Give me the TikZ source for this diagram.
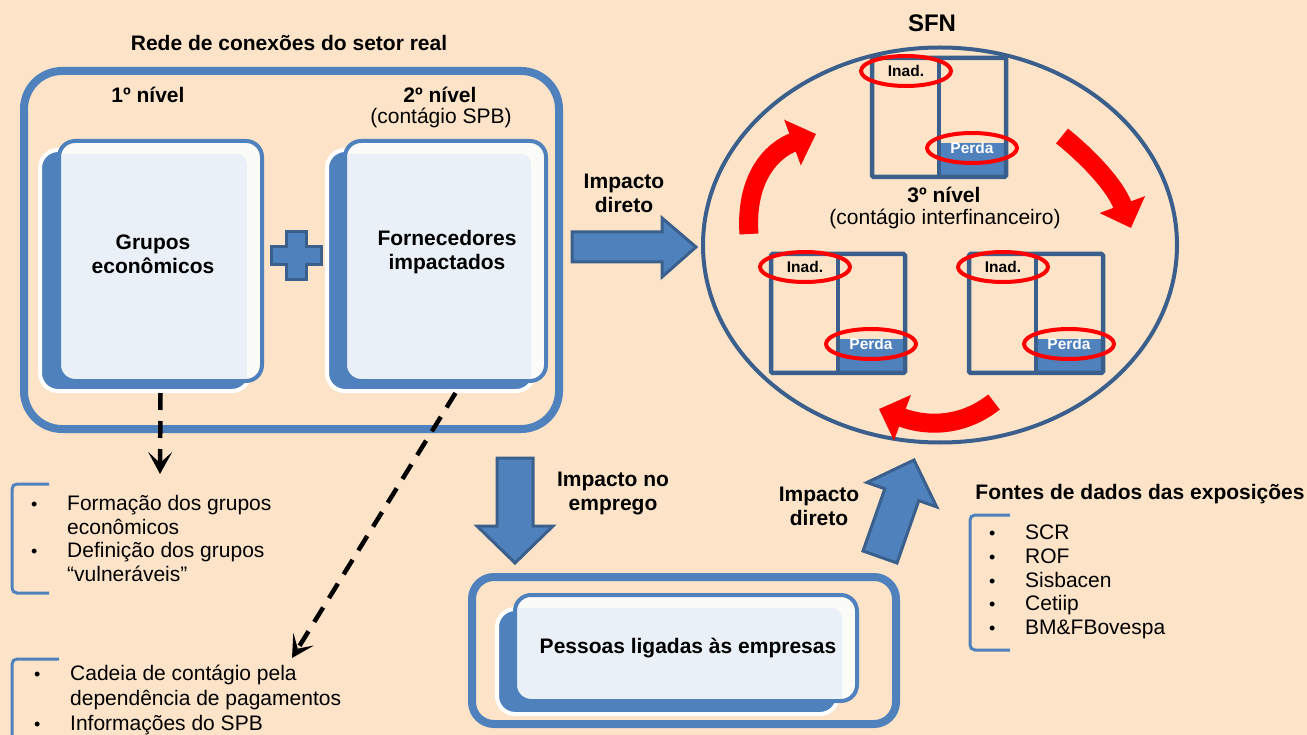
\documentclass[tikz,border=0pt]{standalone}
\usepackage{fontspec}
\setmainfont{Liberation Sans}
\usepackage{xcolor}
\usetikzlibrary{arrows.meta}
\usetikzlibrary{shapes.geometric}

\definecolor{peach}{RGB}{253,228,201}
\definecolor{boxblue}{RGB}{79,129,189}
\definecolor{darkblue}{RGB}{58,95,140}
\definecolor{cardfill}{RGB}{234,240,248}
\definecolor{cardrim}{RGB}{251,251,248}

\newcommand{\itembul}{\makebox[36pt][l]{\fontsize{18}{18}\selectfont\textbullet}}

\begin{document}
\begin{tikzpicture}[x=1pt, y=-1pt,
	txt/.style={font=\fontsize{21}{24}\selectfont, align=center, inner sep=0pt},
	btxt/.style={txt, font=\fontsize{21}{24}\selectfont\bfseries},
	frame/.style={draw=boxblue, line width=8pt, rounded corners=38pt},
	plate/.style={fill=boxblue, draw=white, line width=4pt, rounded corners=18pt},
	card/.style={draw=boxblue, line width=4pt, fill=cardrim, rounded corners=16pt,
		path picture={\fill[cardfill, rounded corners=10pt]
			([shift={(-6,13)}]path picture bounding box.north west) rectangle
			([shift={(-15,6)}]path picture bounding box.south east);}},
	blockarrow/.style={fill=boxblue, draw=darkblue, line width=3pt, line join=miter},
	dasharrow/.style={black, line width=4.5pt, dash pattern=on 17pt off 11pt,
		-{Stealth[length=22pt,width=24pt,inset=11pt]}},
	redarrow/.style={red, line width=19pt, -{Triangle[length=25pt,width=47pt]}},
	bank/.style={draw=darkblue, line width=4.5pt, rounded corners=1.5pt},
	ring/.style={ellipse, draw=red, line width=4pt, minimum width=90pt, minimum height=30pt,
		inner sep=0pt, font=\fontsize{15.5}{18}\selectfont\bfseries},
	bracket/.style={draw=boxblue, line width=3pt, rounded corners=5pt},
	lst/.style={anchor=base west, inner sep=0pt}
]
	\fill[peach] (0,0) rectangle (1307,735);
	\useasboundingbox (0,0) rectangle (1307,735);

	% setor real
	\node[frame, minimum width=535pt, minimum height=358pt] (realsec) at (291.5,250) {};
	\node[btxt] (realsec-title) at (289,43) {Rede de conexões do setor real};
	\node[btxt] (nivel1) at (148,95) {1º nível};
	\node[btxt] (nivel2) at (440,95) {2º nível};
	\node[txt] (nivel2-sub) at (441,118) {(contágio SPB)};

	\node[plate, minimum width=210pt, minimum height=241pt] (grupos-plate) at (145,270.5) {};
	\node[card, minimum width=203pt, minimum height=240pt] (grupos) at (160.5,261) {};
	\node[btxt] (grupos-txt) at (153,254) {Grupos\\econômicos};

	\node[plate, minimum width=207pt, minimum height=241pt] (forn-plate) at (430.5,270.5) {};
	\node[card, minimum width=201pt, minimum height=240pt] (forn) at (445.5,261) {};
	\node[btxt] (forn-txt) at (447,252) {Fornecedores\\impactados};

	% sinal de soma
	\draw[blockarrow] (286,232) -- (306,232) -- (306,247) -- (321,247) -- (321,265) -- (306,265)
		-- (306,280) -- (286,280) -- (286,265) -- (271,265) -- (271,247) -- (286,247) -- cycle;

	% setas tracejadas
	\coordinate (tip1) at (160,474);
	\coordinate (tip2) at (292,658);
	\draw[dasharrow] ([yshift=-10pt]grupos.south) -- (tip1);
	\draw[dasharrow] ([xshift=10pt,yshift=-10pt]forn.south) -- (tip2);

	% impactos
	\draw[blockarrow] (572,232) -- (662,232) -- (662,218) -- (696,247) -- (662,277) -- (662,262) -- (572,262) -- cycle;
	\node[btxt] (imp-direto1) at (624,193) {Impacto\\direto};
	\draw[blockarrow] (497,458) -- (533,458) -- (533,526) -- (553,526) -- (515,563) -- (477,526) -- (497,526) -- cycle;
	\node[btxt] (imp-emprego) at (613,493) {Impacto no\\emprego};
	\draw[blockarrow] (863,551) -- (884.8,488.8) -- (866.9,482.5) -- (914,460) -- (936.7,506.9) -- (918.8,500.6) -- (897,563) -- cycle;
	\node[btxt] (imp-direto2) at (819,506) {Impacto\\direto};

	% SFN
	\node[draw=darkblue, line width=4pt, ellipse, minimum width=474pt, minimum height=395pt] (sfn) at (940,245) {};
	\node[btxt, font=\fontsize{24}{28}\selectfont\bfseries] (sfn-title) at (932,23) {SFN};
	\node[btxt] (nivel3) at (944,195) {3º nível};
	\node[txt] (nivel3-sub) at (945,219) {(contágio interfinanceiro)};

	\foreach \bx/\by/\bn in {872/58/top, 771/254/left, 969/254/right}{
		\fill[boxblue] (\bx+67,\by+85) rectangle (\bx+134,\by+119);
		\draw[bank] (\bx,\by) rectangle (\bx+134,\by+119);
		\draw[bank] (\bx+67,\by) -- (\bx+67,\by+119);
		\node[ring, text=black] (inad-\bn) at (\bx+34,\by+13) {Inad.};
		\node[ring, text=white] (perda-\bn) at (\bx+100,\by+90) {Perda};
	}

	\draw[redarrow] (749,234) .. controls (745,178) and (772,150) .. (816,134);
	\draw[redarrow] (1062,136) .. controls (1087,156) and (1115,185) .. (1131,228);
	\draw[redarrow] (994,402) .. controls (965,425) and (930,428) .. (879,409);

	% pessoas
	\node[frame, rounded corners=22pt, minimum width=424pt, minimum height=147pt] (pessoas-box) at (684,650.5) {};
	\node[plate, minimum width=341pt, minimum height=105pt] (pessoas-plate) at (667.5,661.5) {};
	\node[card, minimum width=342pt, minimum height=106pt] (pessoas) at (686,648) {};
	\node[btxt] (pessoas-txt) at (688,648) {Pessoas ligadas às empresas};

	% listas
	\draw[bracket] (49,484) -| (12,593) -- (49,593);
	\node[lst, font=\fontsize{21}{23.5}\selectfont] (lst-grupos) at (31,510.5) {%
		\begin{tabular}[t]{@{}l@{}l@{}}
			\itembul & Formação dos grupos\\
			         & econômicos\\
			\itembul & Definição dos grupos\\
			         & “vulneráveis”
		\end{tabular}};

	\draw[bracket] (59,659) -| (12,745);
	\node[lst, font=\fontsize{21}{25}\selectfont] (lst-spb) at (34,680.5) {%
		\begin{tabular}[t]{@{}l@{}l@{}}
			\itembul & Cadeia de contágio pela\\
			         & dependência de pagamentos\\
			\itembul & Informações do SPB
		\end{tabular}};

	\node[btxt, anchor=base] (fontes-title) at (1140,499.5) {Fontes de dados das exposições};
	\draw[bracket] (1010,515) -| (970,650) -- (1010,650);
	\node[lst, font=\fontsize{21}{23.8}\selectfont] (lst-fontes) at (989,539.5) {%
		\begin{tabular}[t]{@{}l@{}l@{}}
			\itembul & SCR\\
			\itembul & ROF\\
			\itembul & Sisbacen\\
			\itembul & Cetiip\\
			\itembul & BM\&FBovespa
		\end{tabular}};
\end{tikzpicture}
\end{document}
